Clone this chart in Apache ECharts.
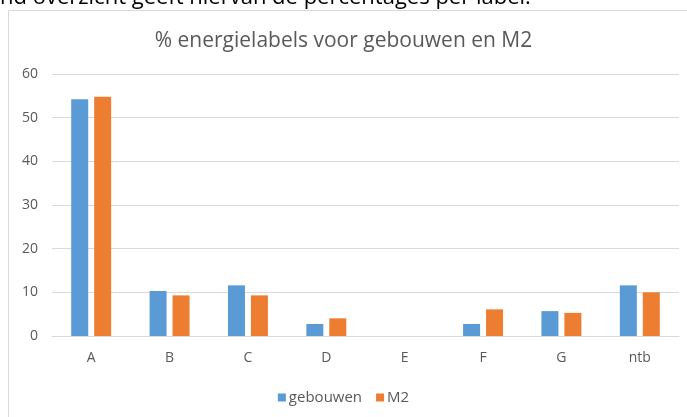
<!DOCTYPE html>
<html><head><meta charset="utf-8">
<script src="https://cdn.jsdelivr.net/npm/echarts@6/dist/echarts.min.js"></script>
<style>html,body{margin:0;padding:0;background:#fff}#c{width:687px;height:417px}</style>
</head><body><div id="c"></div>
<script>
const categories = ['A','B','C','D','E','F','G','ntb'];
const gebouwen = [54.2, 10.3, 11.6, 2.75, 0, 2.75, 5.7, 11.6];
const m2 = [54.8, 9.3, 9.3, 4.05, 0, 6.1, 5.3, 10.0];
const yTicks = [0, 10, 20, 30, 40, 50, 60];
const seriesNames = ['gebouwen', 'M2'];
const colors = ['#5b9bd5', '#ed7d31'];
const font = '"Open Sans", sans-serif';

const chart = echarts.init(document.getElementById('c'), null, {renderer:'canvas'});
chart.setOption({
  animation: false,
  textStyle: {fontFamily: font},
  graphic: [
    {type:'rect', shape:{x:8.5, y:10.5, width:700, height:420}, style:{fill:'none', stroke:'#d9d9d9', lineWidth:1}, z:-1},
    {type:'text', left:0, top:-13, style:{text:'nd overzicht geeft hiervan de percentages per label.', fill:'#000', font:'22px "Open Sans", sans-serif'}}
  ],
  title: {text:'% energielabels voor gebouwen en M2', left:'center', top:26,
    textStyle:{color:'#595959', fontSize:21, fontWeight:'normal', fontFamily:font}},
  legend: {bottom:7, left:'center', itemWidth:8, itemHeight:8, itemGap:14, icon:'rect',
    data: seriesNames,
    textStyle:{color:'#595959', fontSize:15, fontFamily:font, padding:[0,0,0,-2]}},
  grid: {left:52, right:8, top:74, bottom:81},
  xAxis: {type:'category', data:categories,
    axisLine:{lineStyle:{color:'#d9d9d9'}}, axisTick:{show:false},
    axisLabel:{color:'#595959', fontSize:14, margin:15}},
  yAxis: {type:'value', min:yTicks[0], max:yTicks[yTicks.length-1], interval:10,
    axisLine:{show:false}, axisTick:{show:false},
    splitLine:{lineStyle:{color:'#d9d9d9'}},
    axisLabel:{color:'#595959', fontSize:14, margin:14}},
  series: [
    {name:seriesNames[0], type:'bar', data:gebouwen, barWidth:17, barGap:'35%', itemStyle:{color:colors[0]}},
    {name:seriesNames[1], type:'bar', data:m2, barWidth:17, itemStyle:{color:colors[1]}}
  ]
});
</script></body></html>
